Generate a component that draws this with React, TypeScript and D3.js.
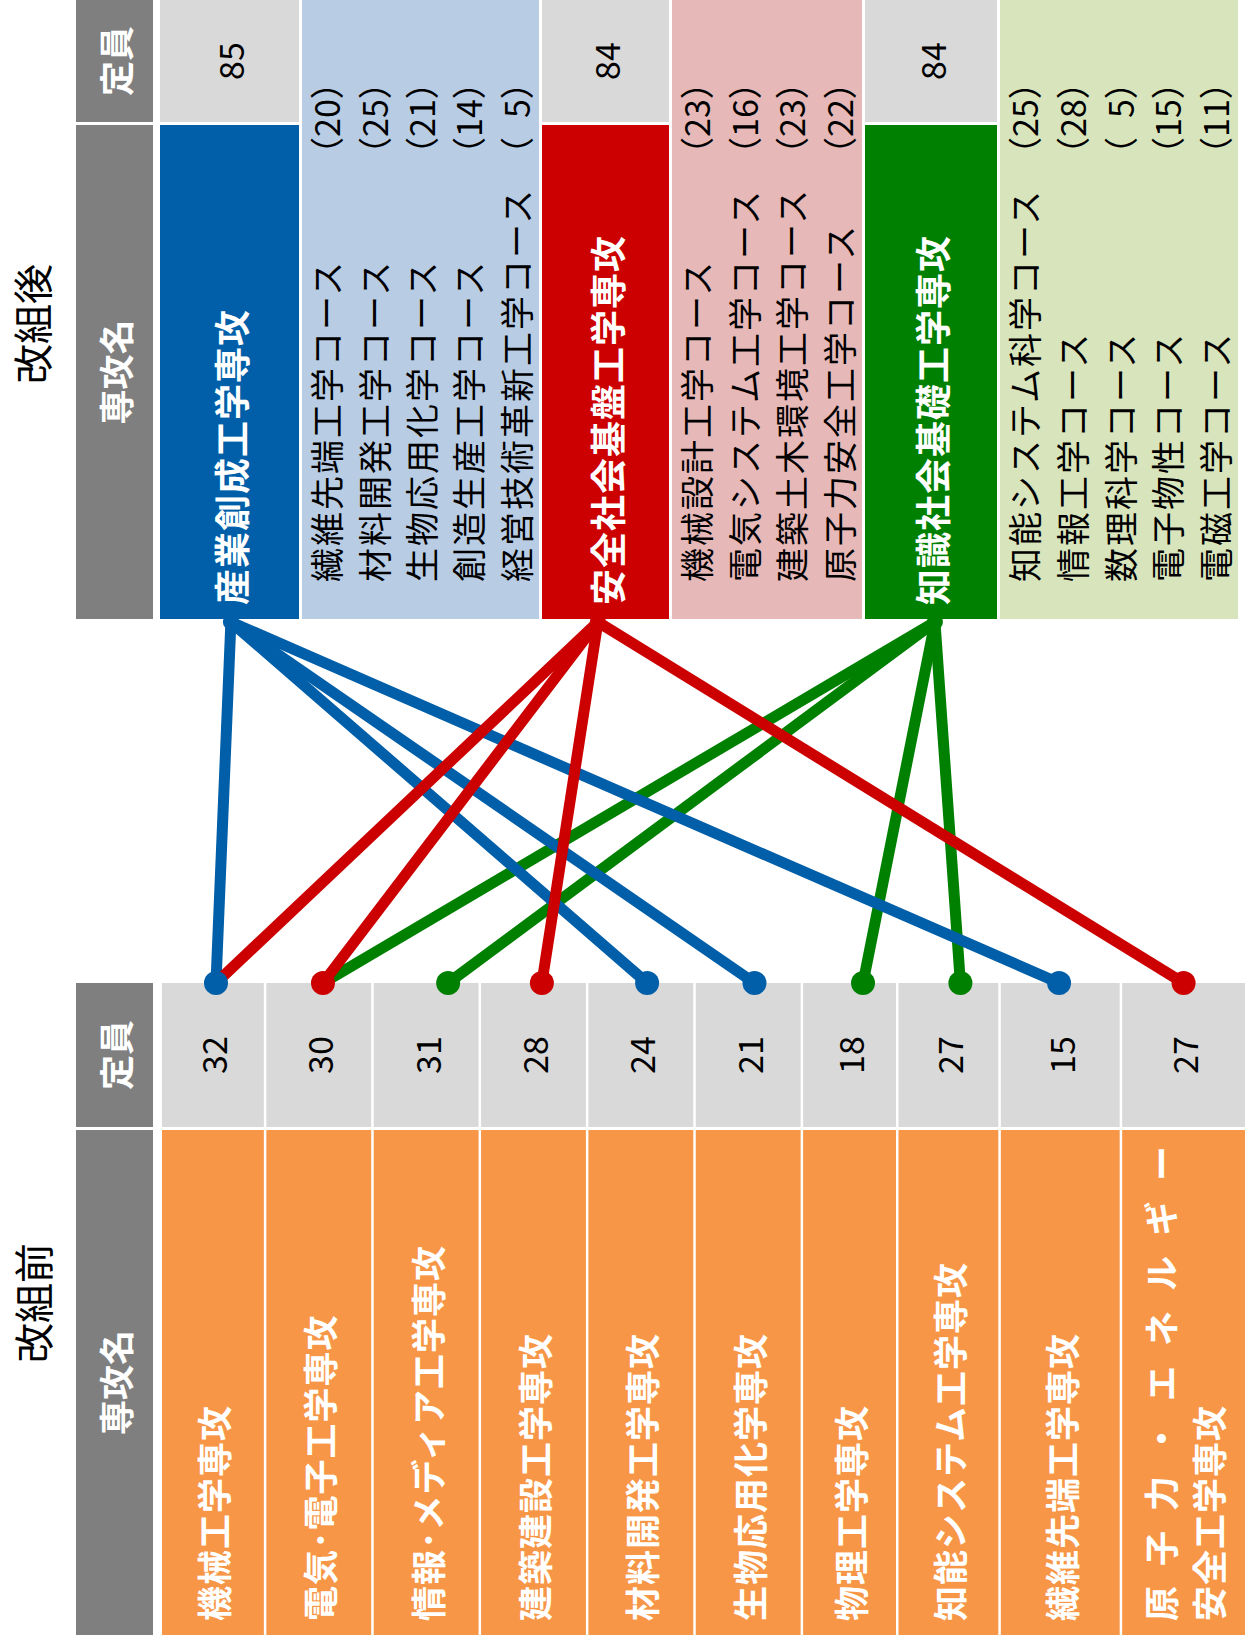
import React from "react";
import * as d3 from "d3";

// ---------- data ----------
const beforeMajorLines: string[][] = [
  ["機械工学専攻"],
  ["電気･電子工学専攻"],
  ["情報･メディア工学専攻"],
  ["建築建設工学専攻"],
  ["材料開発工学専攻"],
  ["生物応用化学専攻"],
  ["物理工学専攻"],
  ["知能システム工学専攻"],
  ["繊維先端工学専攻"],
  ["原子力・エネルギー", "安全工学専攻"],
];
const beforeCapacity = [32, 30, 31, 28, 24, 21, 18, 27, 15, 27];
const beforeColWeights = [102, 105, 105, 105, 105, 105, 93, 100, 119, 123];
const beforeAnchor = [0.53, 0.54, 0.71, 0.58, 0.56, 0.56, 0.645, 0.62, 0.49, 0.5];
// which new major's colour the dot on each old major takes
const dotOwner = [0, 1, 2, 1, 0, 0, 2, 2, 0, 1];

const afterMajors = ["産業創成工学専攻", "安全社会基盤工学専攻", "知識社会基礎工学専攻"];
const afterCapacity = [85, 84, 84];
const afterColors = ["#005fa8", "#cc0000", "#008000"];
const afterLight = ["#b8cce4", "#e6b8b7", "#d8e4bc"];
const afterMajorWeights = [139, 127, 132];
const afterCourseWeights = [237, 190, 238];
const afterAnchor = [0.51, 0.44, 0.53];

const courses: string[][] = [
  ["繊維先端工学コース", "材料開発工学コース", "生物応用化学コース", "創造生産工学コース", "経営技術革新工学コース"],
  ["機械設計工学コース", "電気システム工学コース", "建築土木環境工学コース", "原子力安全工学コース"],
  ["知能システム科学コース", "情報工学コース", "数理科学コース", "電子物性コース", "電磁工学コース"],
];
const courseSeats: number[][] = [
  [20, 25, 21, 14, 5],
  [23, 16, 23, 22],
  [25, 28, 5, 15, 11],
];

// [new major index, old major index]
const links: [number, number][] = [
  [2, 1], [2, 2], [2, 6], [2, 7],
  [0, 0], [0, 4], [0, 5], [0, 8],
  [1, 0], [1, 1], [1, 3], [1, 9],
];

const titleAfter = "改組後";
const titleBefore = "改組前";
const headName = "専攻名";
const headCap = "定員";

// ---------- layout ----------
const W = 1251;
const H = 1637;
const FONT = "'Noto Sans CJK JP', 'Noto Sans', sans-serif";
const GAP = 3;
const HEAD_X0 = 76, HEAD_X1 = 153;

const TOP_CAP_Y0 = -2, TOP_CAP_Y1 = 122;
const TOP_NAME_Y0 = 125, TOP_NAME_Y1 = 619;
const BOT_CAP_Y0 = 983, BOT_CAP_Y1 = 1127;
const BOT_NAME_Y0 = 1130, BOT_NAME_Y1 = 1635;

const TOP_X0 = 160;
const BOT_X0 = 162, BOT_X1 = 1245;

function VText(props: {
  x: number; y: number; anchor?: string; size: number; weight?: string | number;
  fill?: string; spacing?: number; children: React.ReactNode;
}) {
  const { x, y, anchor = "middle", size, weight = "normal", fill = "#000", spacing = 0, children } = props;
  return (
    <text
      transform={`translate(${x},${y}) rotate(-90)`}
      textAnchor={anchor}
      dominantBaseline="central"
      fontSize={size}
      fontWeight={weight}
      fill={fill}
      letterSpacing={spacing}
      style={{ whiteSpace: "pre" }}
      fontFamily={FONT}
    >
      {children}
    </text>
  );
}

export default function App() {
  // bottom columns via linear scale over cumulative weights
  const bGap = 2.5;
  const totalB = d3.sum(beforeColWeights);
  const bScale = d3.scaleLinear().domain([0, totalB]).range([0, BOT_X1 - BOT_X0 - bGap * (beforeColWeights.length - 1)]);
  const bCum = [0, ...Array.from(d3.cumsum(beforeColWeights))];
  const bottomCols = beforeColWeights.map((w, i) => {
    const x0 = BOT_X0 + bScale(bCum[i]) + i * bGap;
    const x1 = x0 + bScale(w);
    return { x0, x1, cx: (x0 + x1) / 2, ax: x0 + (x1 - x0) * beforeAnchor[i] };
  });

  // top columns: major, course pairs
  const topSeq: number[] = [];
  afterMajorWeights.forEach((w, i) => { topSeq.push(w, afterCourseWeights[i]); });
  const tCum = [0, ...Array.from(d3.cumsum(topSeq))];
  const tScale = d3.scaleLinear().domain([0, d3.sum(topSeq)]).range([0, d3.sum(topSeq)]);
  const topCols = topSeq.map((w, k) => {
    const x0 = TOP_X0 + tScale(tCum[k]) + k * GAP;
    return { x0, x1: x0 + tScale(w) };
  });
  const majorCols = afterMajors.map((_, i) => topCols[i * 2]);
  const courseCols = afterMajors.map((_, i) => topCols[i * 2 + 1]);
  const topAnchors = majorCols.map((c, i) => ({ x: c.x0 + (c.x1 - c.x0) * afterAnchor[i], y: TOP_NAME_Y1 + 3 }));

  const lineGen = d3.line<[number, number]>();

  return (
    <svg
      width={W}
      height={H}
      viewBox={`0 0 ${W} ${H}`}
      style={{ position: "absolute", left: 0, top: 0, display: "block", background: "#fff" }}
    >
      {/* titles */}
      <VText x={31} y={324} size={40}>{titleAfter}</VText>
      <VText x={32} y={1303} size={40}>{titleBefore}</VText>

      {/* top headers */}
      <rect x={HEAD_X0} y={TOP_CAP_Y0} width={HEAD_X1 - HEAD_X0} height={TOP_CAP_Y1 - TOP_CAP_Y0} fill="#7f7f7f" />
      <rect x={HEAD_X0} y={TOP_NAME_Y0} width={HEAD_X1 - HEAD_X0} height={TOP_NAME_Y1 - TOP_NAME_Y0} fill="#7f7f7f" />
      <VText x={(HEAD_X0 + HEAD_X1) / 2} y={(0 + TOP_CAP_Y1) / 2} size={35} weight="bold" fill="#fff">{headCap}</VText>
      <VText x={(HEAD_X0 + HEAD_X1) / 2} y={(TOP_NAME_Y0 + TOP_NAME_Y1) / 2} size={35} weight="bold" fill="#fff">{headName}</VText>

      {/* top: new majors */}
      {afterMajors.map((m, i) => {
        const c = majorCols[i];
        const cx = (c.x0 + c.x1) / 2;
        return (
          <g key={"am" + i}>
            <rect x={c.x0} y={TOP_CAP_Y0} width={c.x1 - c.x0} height={TOP_CAP_Y1 - TOP_CAP_Y0} fill="#d9d9d9" />
            <VText x={cx} y={(0 + TOP_CAP_Y1) / 2} size={34}>{String(afterCapacity[i])}</VText>
            <rect x={c.x0} y={TOP_NAME_Y0} width={c.x1 - c.x0} height={TOP_NAME_Y1 - TOP_NAME_Y0} fill={afterColors[i]} />
            <VText x={cx} y={605} anchor="start" size={36} weight="bold" fill="#fff" spacing={1}>{m}</VText>
          </g>
        );
      })}

      {/* top: courses */}
      {courses.map((list, i) => {
        const c = courseCols[i];
        const band = d3.scaleBand<number>().domain(d3.range(list.length)).range([c.x0, c.x1]);
        return (
          <g key={"cg" + i}>
            <rect x={c.x0} y={TOP_CAP_Y0} width={c.x1 - c.x0} height={TOP_NAME_Y1 - TOP_CAP_Y0} fill={afterLight[i]} />
            {list.map((name, j) => {
              const x = (band(j) as number) + band.bandwidth() / 2;
              const n = courseSeats[i][j];
              return (
                <g key={"c" + j}>
                  <VText x={x} y={582} anchor="start" size={34} spacing={2}>{name}</VText>
                  <VText x={x} y={118} size={34}>{`（${n < 10 ? "\u2007" + n : n}）`}</VText>
                </g>
              );
            })}
          </g>
        );
      })}

      {/* bottom headers */}
      <rect x={HEAD_X0} y={BOT_CAP_Y0} width={HEAD_X1 - HEAD_X0} height={BOT_CAP_Y1 - BOT_CAP_Y0} fill="#7f7f7f" />
      <rect x={HEAD_X0} y={BOT_NAME_Y0} width={HEAD_X1 - HEAD_X0} height={BOT_NAME_Y1 - BOT_NAME_Y0} fill="#7f7f7f" />
      <VText x={(HEAD_X0 + HEAD_X1) / 2} y={(BOT_CAP_Y0 + BOT_CAP_Y1) / 2} size={35} weight="bold" fill="#fff">{headCap}</VText>
      <VText x={(HEAD_X0 + HEAD_X1) / 2} y={(BOT_NAME_Y0 + BOT_NAME_Y1) / 2} size={35} weight="bold" fill="#fff">{headName}</VText>

      {/* bottom: old majors */}
      {bottomCols.map((c, i) => {
        const lines = beforeMajorLines[i];
        const lineStep = 48;
        return (
          <g key={"bm" + i}>
            <rect x={c.x0} y={BOT_CAP_Y0} width={c.x1 - c.x0} height={BOT_CAP_Y1 - BOT_CAP_Y0} fill="#d9d9d9" />
            <VText x={c.cx} y={(BOT_CAP_Y0 + BOT_CAP_Y1) / 2} size={34}>{String(beforeCapacity[i])}</VText>
            <rect x={c.x0} y={BOT_NAME_Y0} width={c.x1 - c.x0} height={BOT_NAME_Y1 - BOT_NAME_Y0} fill="#f79646" />
            {lines.map((t, k) => {
              const x = c.cx + (k - (lines.length - 1) / 2) * lineStep;
              const spaced = lines.length > 1 && k === 0;
              return (
                <VText key={k} x={x} y={1621} anchor="start" size={35} weight="bold" fill="#fff" spacing={spaced ? 20 : 1}>{t}</VText>
              );
            })}
          </g>
        );
      })}

      {/* links */}
      {links.map(([a, b], k) => {
        const p0: [number, number] = [topAnchors[a].x, topAnchors[a].y];
        const p1: [number, number] = [bottomCols[b].ax, BOT_CAP_Y0];
        return (
          <path key={"l" + k} d={lineGen([p0, p1]) as string} stroke={afterColors[a]} strokeWidth={11} strokeLinecap="round" fill="none" />
        );
      })}
      {topAnchors.map((p, i) => (
        <circle key={"ta" + i} cx={p.x} cy={p.y} r={8} fill={afterColors[i]} />
      ))}
      {bottomCols.map((c, i) => (
        <circle key={"d" + i} cx={c.ax} cy={BOT_CAP_Y0} r={12} fill={afterColors[dotOwner[i]]} />
      ))}
    </svg>
  );
}
